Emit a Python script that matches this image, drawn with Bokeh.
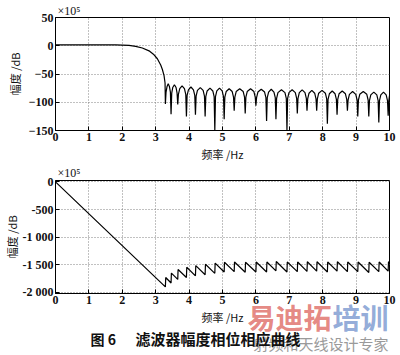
from bokeh.plotting import figure
from bokeh.models import FixedTicker, Label, Range1d
from bokeh.layouts import column
from bokeh.embed import file_html
from bokeh.resources import INLINE

# ---------------- data ----------------
x_ticks = [0, 1, 2, 3, 4, 5, 6, 7, 8, 9, 10]
mag_ticks = [-150, -100, -50, 0, 50]
phase_ticks = [-2000, -1500, -1000, -500, 0]
phase_tick_labels = {-2000: "-2 000", -1500: "-1 500", -1000: "-1 000", -500: "-500", 0: "0"}

# magnitude response (x10^5 Hz, dB)
mag_freq = [0, 1.8, 2.0, 2.2, 2.4, 2.6, 2.8, 2.95, 3.05, 3.15, 3.2, 3.25, 3.28,
            3.29, 3.31, 3.34, 3.375, 3.41, 3.44,
            3.46, 3.48, 3.51, 3.56, 3.61, 3.64,
            3.66, 3.68, 3.72, 3.79, 3.86, 3.90,
            3.92, 3.94, 3.98, 4.055, 4.13, 4.17,
            4.19, 4.21, 4.25, 4.335, 4.42, 4.46,
            4.48, 4.50, 4.54, 4.625, 4.71, 4.75,
            4.77, 4.79, 4.83, 4.91, 4.99, 5.03,
            5.05, 5.07, 5.11, 5.20, 5.29, 5.33,
            5.35, 5.37, 5.41, 5.515, 5.62, 5.66,
            5.68, 5.70, 5.74, 5.84, 5.94, 5.98,
            6.00, 6.02, 6.06, 6.16, 6.26, 6.30,
            6.32, 6.34, 6.38, 6.46, 6.54, 6.58,
            6.60, 6.62, 6.66, 6.765, 6.87, 6.91,
            6.93, 6.95, 6.99, 7.085, 7.18, 7.22,
            7.24, 7.26, 7.30, 7.385, 7.47, 7.51,
            7.53, 7.55, 7.59, 7.675, 7.76, 7.80,
            7.82, 7.84, 7.88, 7.98, 8.08, 8.12,
            8.14, 8.16, 8.20, 8.285, 8.37, 8.41,
            8.43, 8.45, 8.49, 8.585, 8.68, 8.72,
            8.74, 8.76, 8.80, 8.895, 8.99, 9.03,
            9.05, 9.07, 9.11, 9.215, 9.32, 9.36,
            9.38, 9.40, 9.44, 9.53, 9.62, 9.66,
            9.68, 9.70, 9.74, 9.82, 9.90, 9.94,
            9.96, 9.98, 10.0]
mag_db = [1.5, 1.5, 1.2, 0.5, -1, -4, -9, -16, -23, -34, -42, -53, -66,
          -103, -82, -72, -67, -72, -82,
          -121, -84, -74, -69, -74, -84,
          -104, -86, -76, -71, -76, -86,
          -125, -88, -78, -73, -78, -88,
          -122, -89, -79, -74, -79, -89,
          -125, -90, -80, -75, -80, -90,
          -150, -90, -80, -75, -80, -90,
          -130, -91, -81, -76, -81, -91,
          -115, -91, -81, -76, -81, -91,
          -120, -91, -81, -76, -81, -91,
          -106, -92, -82, -77, -82, -92,
          -133, -92, -82, -77, -82, -92,
          -130, -93, -83, -78, -83, -93,
          -149, -93, -83, -78, -83, -93,
          -120, -93, -83, -78, -83, -93,
          -115, -94, -84, -79, -84, -94,
          -115, -94, -84, -79, -84, -94,
          -138, -95, -85, -80, -85, -95,
          -122, -95, -85, -80, -85, -95,
          -115, -96, -86, -81, -86, -96,
          -125, -96, -86, -81, -86, -96,
          -125, -97, -87, -82, -87, -97,
          -136, -97, -87, -82, -87, -97,
          -124, -97, -88]

# phase response (x10^5 Hz, degrees)
phase_freq = [0, 3.29, 3.30, 3.46, 3.47, 3.66, 3.67, 3.92, 3.93, 4.19, 4.20,
              4.48, 4.49, 4.77, 4.78, 5.05, 5.06, 5.35, 5.36, 5.68, 5.69,
              6.00, 6.01, 6.32, 6.33, 6.60, 6.61, 6.93, 6.94, 7.24, 7.25,
              7.53, 7.54, 7.82, 7.83, 8.14, 8.15, 8.43, 8.44, 8.74, 8.75,
              9.05, 9.06, 9.38, 9.39, 9.68, 9.69, 9.96, 9.97, 10.0]
phase_deg = [0, -1900, -1730, -1830, -1650, -1765, -1585, -1730, -1545, -1700, -1515,
             -1680, -1490, -1655, -1470, -1630, -1455, -1625, -1450, -1635, -1455,
             -1630, -1450, -1630, -1450, -1610, -1440, -1630, -1450, -1625, -1450,
             -1620, -1445, -1615, -1445, -1630, -1450, -1615, -1445, -1625, -1450,
             -1625, -1450, -1640, -1455, -1625, -1450, -1615, -1445, -1460]

# texts
x_label = "频率 /Hz"
y_label = "幅度 /dB"
scale_note = "×10⁵"
fig_no = "图 6"
caption = "滤波器幅度相位相应曲线"
wm_red = "易迪拓"
wm_blue = "培训"
wm_gray = "射频和天线设计专家"

SERIF = "Liberation Serif"
CJK = "Noto Sans CJK SC"


def make_fig(height, yr, yticks, top, bottom, ylab_standoff):
    p = figure(width=400, height=height, x_range=Range1d(0, 10), y_range=yr,
               output_backend="svg", toolbar_location=None,
               min_border_left=55, min_border_right=11,
               min_border_top=top, min_border_bottom=bottom)
    p.background_fill_color = "white"
    p.border_fill_color = "white"
    p.outline_line_color = "black"
    p.outline_line_width = 1
    p.xaxis.ticker = FixedTicker(ticks=x_ticks)
    p.yaxis.ticker = FixedTicker(ticks=yticks)
    for ax in (p.xaxis[0], p.yaxis[0]):
        ax.major_tick_in = 4
        ax.major_tick_out = 0
        ax.minor_tick_line_color = None
        ax.axis_line_color = "black"
        ax.major_label_text_font = SERIF
        ax.major_label_text_font_style = "bold"
        ax.major_label_text_font_size = "12px"
        ax.major_label_text_color = "#111111"
        ax.axis_label_text_font = CJK
        ax.axis_label_text_font_style = "normal"
        ax.axis_label_text_font_size = "11px"
        ax.axis_label_text_color = "#111111"
    p.xaxis.major_label_standoff = 2
    p.yaxis.major_label_standoff = 2
    p.xaxis.axis_label = x_label
    p.xaxis.axis_label_standoff = 2
    p.yaxis.axis_label = y_label
    p.yaxis.axis_label_standoff = ylab_standoff
    p.xgrid.ticker = FixedTicker(ticks=x_ticks)
    p.ygrid.ticker = FixedTicker(ticks=yticks)
    for g in (p.xgrid[0], p.ygrid[0]):
        g.grid_line_color = "#777777"
        g.grid_line_dash = "1 2"
        g.grid_line_alpha = 0.9
    return p


# ---------------- top: magnitude ----------------
p1 = make_fig(165, Range1d(-150, 50), mag_ticks, 17, 35, 3)
p1.line(mag_freq, mag_db, line_color="black", line_width=1.2)

# ---------------- bottom: phase ----------------
p2 = make_fig(190, Range1d(-2020, 25), phase_ticks, 15, 62, 0)
p2.yaxis.major_label_overrides = phase_tick_labels
p2.line(phase_freq, phase_deg, line_color="black", line_width=1.2)

# ---------------- transparent text overlay (frame aligned to x 55..389) ----------------
p3 = figure(width=400, height=355, x_range=Range1d(55, 389), y_range=Range1d(355, 0),
            output_backend="svg", toolbar_location=None,
            x_axis_type=None, y_axis_type=None, min_border=0,
            margin=(-355, 0, 0, 0))
p3.grid.visible = False
p3.outline_line_color = None
p3.background_fill_alpha = 0
p3.border_fill_alpha = 0


def note(x, y, text, **kw):
    opts = dict(text_baseline="middle", text_color="#111111")
    opts.update(kw)
    p3.add_layout(Label(x=x, y=y, text=text, **opts))


note(57, 10, scale_note, text_font=SERIF, text_font_size="12px")
note(57, 172, scale_note, text_font=SERIF, text_font_size="12px")
note(247, 316, wm_red, text_font=CJK, text_font_style="bold", text_font_size="28px",
     text_color="#e27a74", text_alpha=0.9)
note(332, 316, wm_blue, text_font=CJK, text_font_style="bold", text_font_size="28px",
     text_color="#86a2d4", text_alpha=0.9)
note(253, 343, wm_gray, text_font=CJK, text_font_size="15px", text_color="#9a9a9a")
note(90, 338, fig_no, text_font=CJK, text_font_style="bold", text_font_size="14px")
note(135, 338, caption, text_font=CJK, text_font_style="bold", text_font_size="15px")

layout = column(p1, p2, p3, spacing=0)
open("out.html", "w").write(file_html(layout, INLINE))
